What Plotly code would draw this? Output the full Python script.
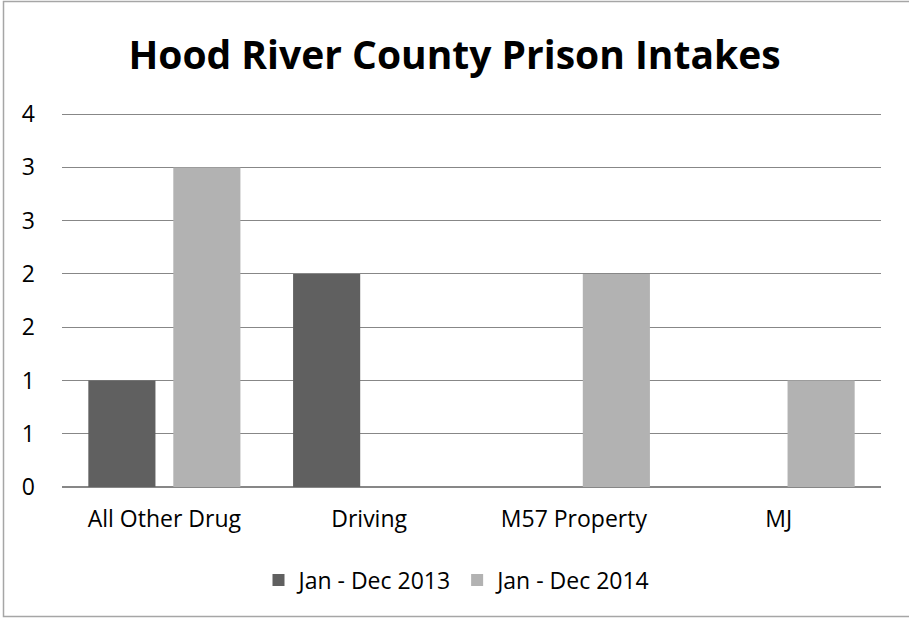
""" hood river county prison intakes, excel style clustered bars """

import plotly.graph_objects as go

# data
categories = ["All Other Drug", "Driving", "M57 Property", "MJ"]
series_names = ["Jan - Dec 2013", "Jan - Dec 2014"]
intakes_2013 = [1, 2, 0, 0]
intakes_2014 = [3, 0, 2, 1]

# excel rounds the half steps on the axis
tick_vals = [0, 0.5, 1, 1.5, 2, 2.5, 3, 3.5]
tick_text = ["0", "1", "1", "2", "2", "3", "3", "4"]

colors = ["#606060", "#b2b2b2"]
font_family = "Open Sans, sans-serif"

fig = go.Figure()
for name, vals, col in zip(series_names, [intakes_2013, intakes_2014], colors):
    fig.add_trace(go.Bar(x=categories, y=vals, name=name, marker_color=col, marker_line_width=0))

# plot area: 62..881 across, 487 (zero) up to ~112
plot_w, plot_h = 819, 375

fig.update_layout(
    width=909,
    height=618,
    barmode="group",
    bargap=0.17,
    bargroupgap=0.21,
    plot_bgcolor="white",
    paper_bgcolor="white",
    margin={"l": 62, "r": 28, "t": 112, "b": 131},
    font={"family": font_family, "size": 23, "color": "black"},
    title={
        "text": "<b>Hood River County Prison Intakes</b>",
        "x": 0.5,
        "xanchor": "center",
        "y": 1 - 55 / 618,
        "yanchor": "middle",
        "font": {"size": 39, "family": font_family, "color": "black"},
    },
    legend={
        "orientation": "h",
        "x": 0.5 - 14 / plot_w,
        "xanchor": "center",
        "y": (487 - 580) / plot_h,
        "yanchor": "middle",
        "font": {"size": 23},
        "itemwidth": 30,
    },
    showlegend=True,
)

# a bit of headroom above 3.5 so plotly keeps the top gridline
fig.update_yaxes(
    range=[0, 3.52],
    tickvals=tick_vals,
    ticktext=tick_text,
    showgrid=True,
    gridcolor="#878787",
    gridwidth=1,
    zeroline=True,
    zerolinecolor="#878787",
    ticks="",
    ticklabelstandoff=26,
    fixedrange=True,
)
fig.update_xaxes(
    showline=False,
    ticks="",
    ticklabelstandoff=16,
    fixedrange=True,
)

# chart area border
fig.add_shape(
    type="rect",
    xref="paper",
    yref="paper",
    x0=(3.5 - 62) / plot_w,
    x1=(914 - 62) / plot_w,
    y0=(487 - 616.5) / plot_h,
    y1=(487 - 1.5) / plot_h,
    line={"color": "#a6a6a6", "width": 1.5},
    layer="below",
)

# page body has a default margin, drop it so the chart sits at 0,0
fig.write_html(
    "out.html",
    config={"displayModeBar": False},
    post_script="document.body.style.margin='0px';",
)
